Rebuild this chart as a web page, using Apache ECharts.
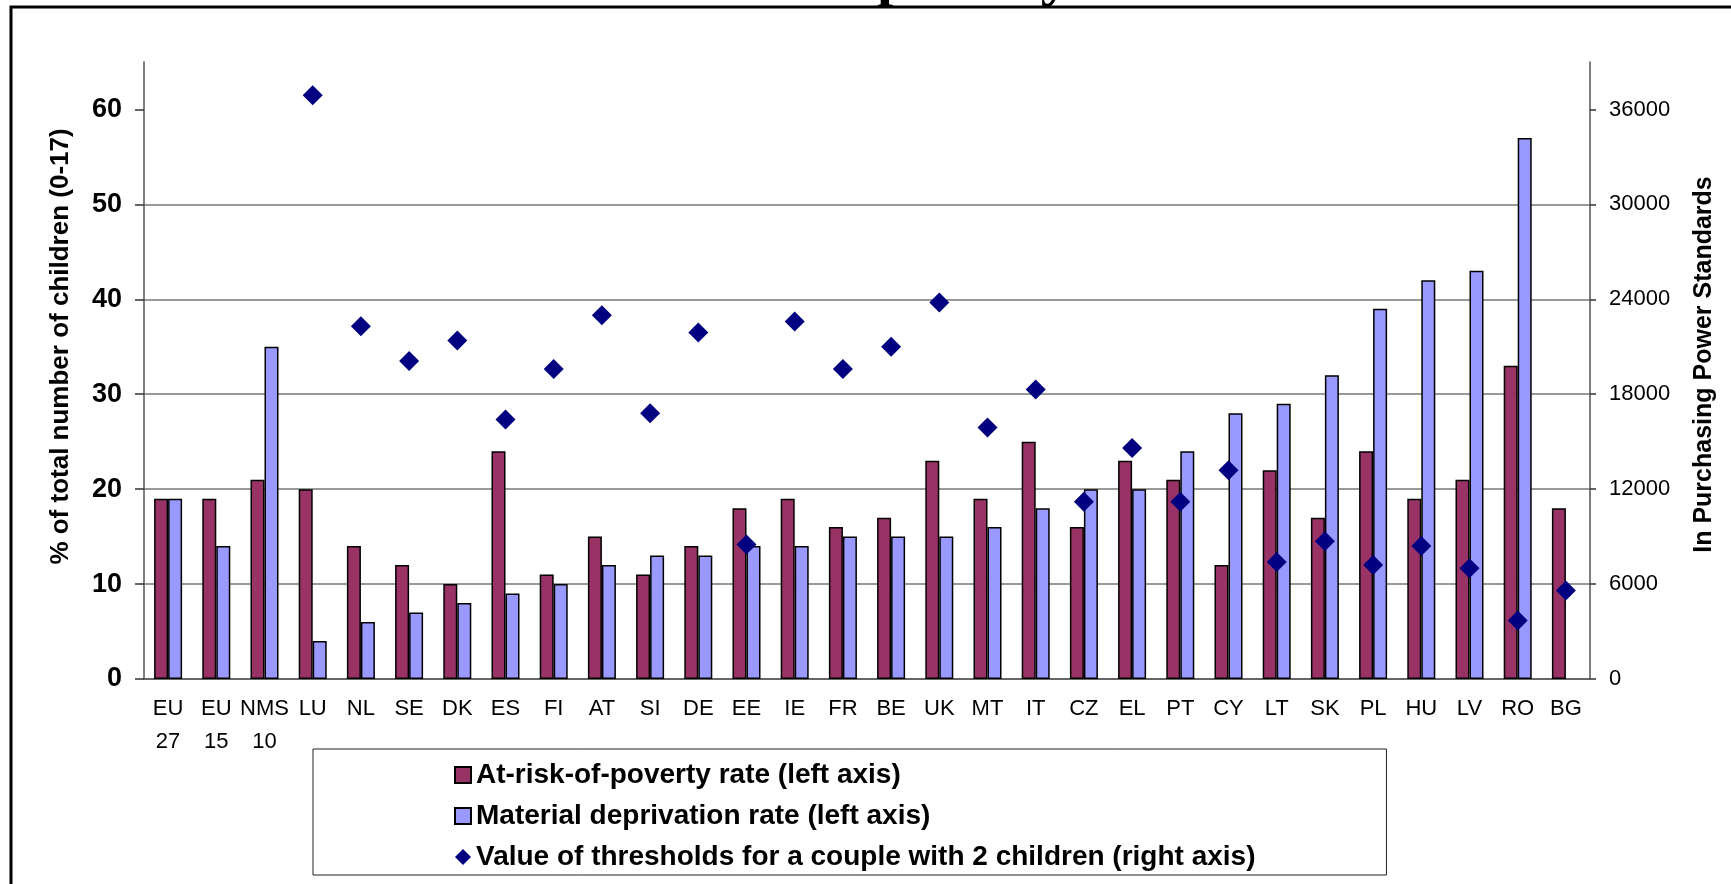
<!DOCTYPE html>
<html>
<head>
<meta charset="utf-8">
<script src="https://cdn.jsdelivr.net/npm/echarts@6/dist/echarts.min.js"></script>
<style>
html,body{margin:0;padding:0;background:#fff;}
#c{width:1731px;height:884px;}
</style>
</head>
<body>
<div id="c"></div>
<script>
const categories = ['EU\n27','EU\n15','NMS\n10','LU','NL','SE','DK','ES','FI','AT','SI','DE','EE','IE','FR','BE','UK','MT','IT','CZ','EL','PT','CY','LT','SK','PL','HU','LV','RO','BG'];
const povertyRate = [19,19,21,20,14,12,10,24,11,15,11,14,18,19,16,17,23,19,25,16,23,21,12,22,17,24,19,21,33,18];
const deprivationRate = [19,14,35,4,6,7,8,9,10,12,13,13,14,14,15,15,15,16,18,20,20,24,28,29,32,39,42,43,57,null];
const thresholds = [null,null,null,36900,22300,20100,21400,16400,19600,23000,16800,21900,8500,22600,19600,21000,23800,15900,18300,11200,14600,11200,13200,7400,8700,7200,8400,7000,3700,5600];
const leftTicks = [0,10,20,30,40,50,60];
const rightTicks = [0,6000,12000,18000,24000,30000,36000];
const seriesNames = ['At-risk-of-poverty rate (left axis)','Material deprivation rate (left axis)','Value of thresholds for a couple with 2 children (right axis)'];

const FF = '"Liberation Sans", Arial, sans-serif';
const chart = echarts.init(document.getElementById('c'), null, {renderer:'canvas'});
const toEmpty = a => a.map(v => v == null ? '-' : v);

chart.setOption({
  animation: false,
  backgroundColor: '#fff',
  title: {
    text: 'poverty', left: 872, top: -56,
    textStyle: {fontFamily: '"Liberation Serif", serif', fontWeight: 'bold', fontSize: 59, color: '#000'}
  },
  graphic: [{
    type: 'rect', silent: true, z: 100,
    shape: {x: 11, y: 7, width: 1800, height: 950},
    style: {fill: 'none', stroke: '#000', lineWidth: 3}
  }],
  grid: {left: 144, right: 141, top: 62, bottom: 205},
  legend: {
    orient: 'vertical', left: 313, top: 749,
    padding: [12, 131, 4, 141], itemGap: 13, itemWidth: 16, itemHeight: 16,
    borderColor: '#222', borderWidth: 1,
    textStyle: {fontSize: 28, fontWeight: 'bold', fontFamily: FF, color: '#000'},
    data: [{name: seriesNames[0], icon: 'rect'}, {name: seriesNames[1], icon: 'rect'}, {name: seriesNames[2], icon: 'diamond'}]
  },
  xAxis: {
    type: 'category', data: categories,
    axisLine: {lineStyle: {color: '#555', width: 1.5}},
    axisTick: {length: 7, lineStyle: {color: '#333', width: 1.5}},
    axisLabel: {interval: 0, fontSize: 22, lineHeight: 33, margin: 13, color: '#000', fontFamily: FF}
  },
  yAxis: [{
    type: 'value', position: 'left', min: 0, max: 65, interval: 10,
    name: '% of total number of children (0-17)', nameLocation: 'middle', nameRotate: 90, nameGap: 70,
    nameTextStyle: {fontSize: 26, fontWeight: 'bold', fontFamily: FF, color: '#000', padding: [0, 0, 0, 48]},
    axisLine: {show: true, lineStyle: {color: '#555', width: 1.5}},
    axisTick: {show: true, length: 9, customValues: leftTicks, lineStyle: {color: '#333', width: 1.5}},
    axisLabel: {customValues: leftTicks, formatter: v => String(v), fontSize: 27, fontWeight: 'bold', color: '#000', fontFamily: FF, margin: 22},
    splitLine: {show: true, showMaxLine: false, lineStyle: {color: '#777', width: 1.5}}
  }, {
    type: 'value', position: 'right', min: 0, max: 39000, interval: 6000,
    name: 'In Purchasing Power Standards', nameLocation: 'middle', nameRotate: 90, nameGap: 102,
    nameTextStyle: {fontSize: 25, fontWeight: 'bold', fontFamily: FF, color: '#000', padding: [0, 0, 0, 12]},
    axisLine: {show: true, lineStyle: {color: '#555', width: 1.5}},
    axisTick: {show: true, length: 6, customValues: rightTicks, lineStyle: {color: '#333', width: 1.5}},
    axisLabel: {customValues: rightTicks, formatter: v => String(v), fontSize: 22, color: '#000', fontFamily: FF, margin: 19},
    splitLine: {show: false}
  }],
  series: [{
    name: seriesNames[0], type: 'bar', data: toEmpty(povertyRate), barWidth: 14, barGap: '0%',
    itemStyle: {color: '#993366', borderColor: '#000', borderWidth: 1.5}
  }, {
    name: seriesNames[1], type: 'bar', data: toEmpty(deprivationRate), barWidth: 14, barGap: '0%',
    itemStyle: {color: '#9999FF', borderColor: '#000', borderWidth: 1.5}
  }, {
    name: seriesNames[2], type: 'scatter', yAxisIndex: 1, data: toEmpty(thresholds),
    symbol: 'diamond', symbolSize: 20, z: 5,
    itemStyle: {color: '#000080', opacity: 1}
  }]
});
</script>
</body>
</html>
